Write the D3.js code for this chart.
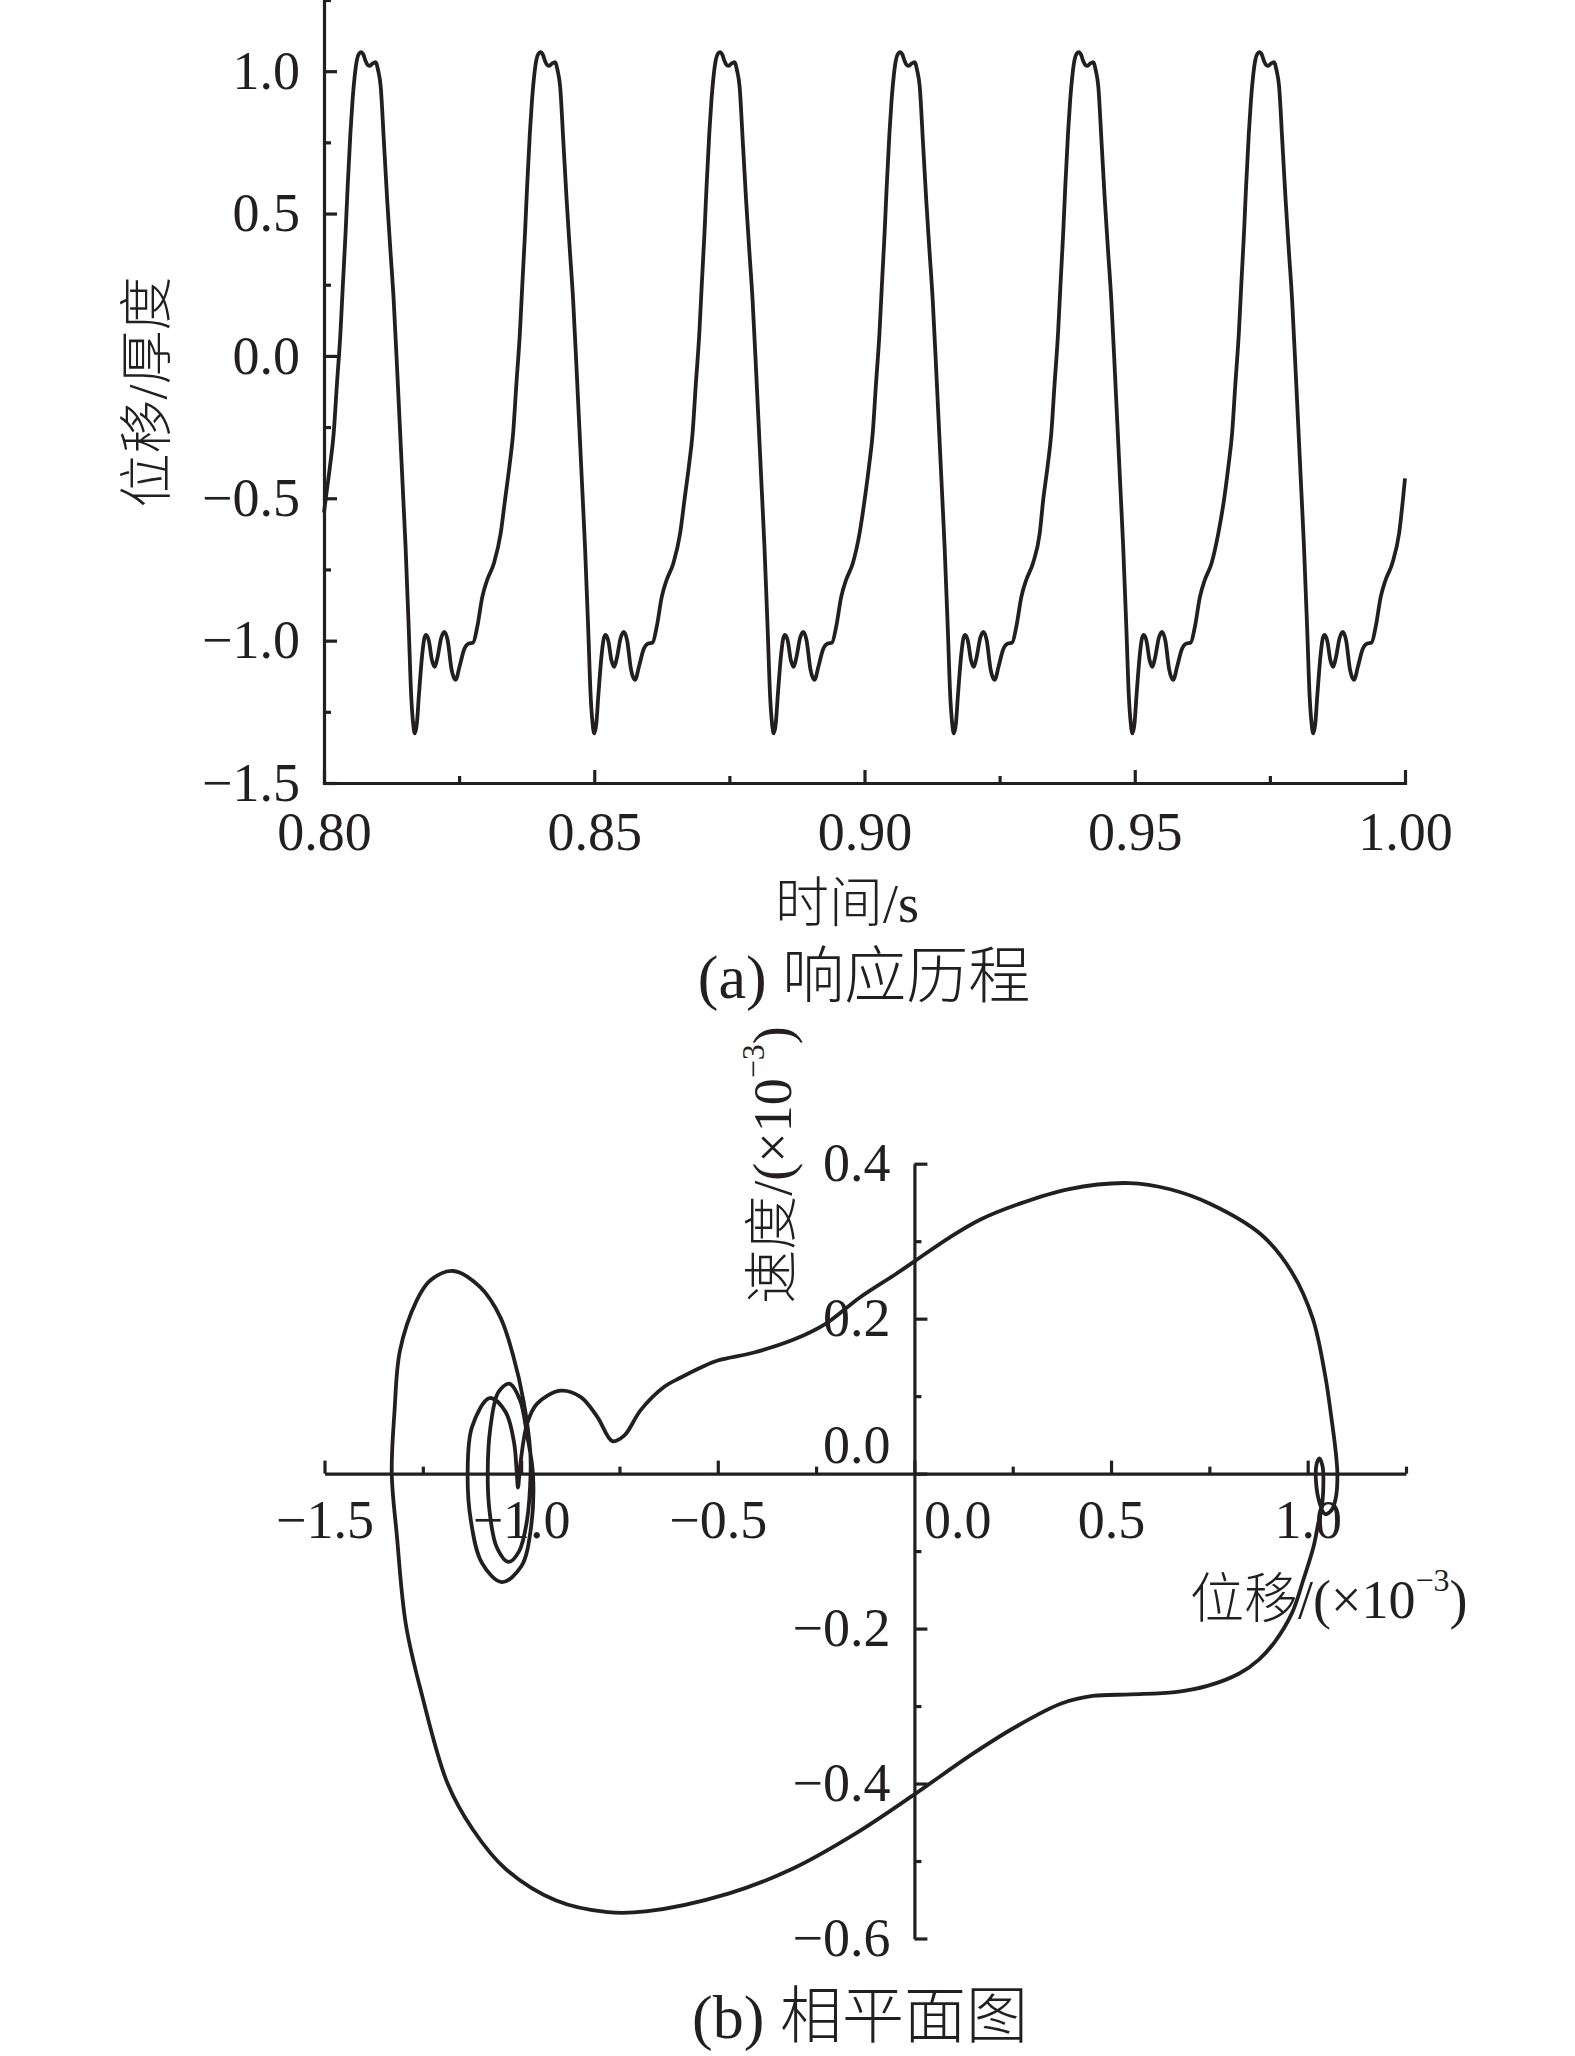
<!DOCTYPE html>
<html>
<head>
<meta charset="utf-8">
<script src="https://cdn.jsdelivr.net/npm/d3@7"></script>
<style>
  body { margin: 0; background: #fff; }
  svg { display: block; background: #fff; }
  .axis text { font-family: "Liberation Serif", "Times New Roman", serif; font-size: 54px; fill: #231f20; }
  .axis line, .axis path { stroke: #231f20; stroke-width: 3.2px; }
  .title { font-family: "Liberation Serif", "Noto Sans CJK SC", serif; font-weight: 300; fill: #231f20; }
</style>
</head>
<body>
<svg width="1575" height="2056"></svg>
<script>
// ---- (a) response history ----
// time of each displacement peak
var peakTimes = [0.80689, 0.84009, 0.87329, 0.90662, 0.93966, 0.97311];
// shape of one cycle: time offset from its peak (s) and displacement/thickness
var cycleOffset = [-0.0066, -0.0058, -0.0051, -0.0045, -0.00385, -0.0034, -0.0029, -0.0025, -0.0020, -0.0016,
  -0.0012, -0.0008, -0.0004, 0, 0.0004, 0.0008, 0.0012, 0.0016, 0.0021, 0.00265,
  0.0031, 0.0036, 0.0042, 0.0048, 0.0054, 0.0060, 0.0067, 0.0073, 0.0077, 0.0082,
  0.0088, 0.00925, 0.0096, 0.0099, 0.0103, 0.01065, 0.0113, 0.0117, 0.0120, 0.0125,
  0.0131, 0.0136, 0.0141, 0.0148, 0.0154, 0.0160, 0.0167, 0.01745, 0.0182, 0.0190,
  0.0199, 0.0207, 0.02147, 0.0224, 0.0233, 0.02455, 0.0258];
var cycleValue = [-0.506, -0.39, -0.272, -0.10, 0.08, 0.25, 0.431, 0.60, 0.783, 0.90,
  0.985, 1.04, 1.062, 1.067, 1.058, 1.036, 1.022, 1.019, 1.027, 1.032,
  1.005, 0.946, 0.75, 0.548, 0.37, 0.197, -0.07, -0.31, -0.47, -0.67,
  -0.963, -1.197, -1.29, -1.326, -1.29, -1.197, -1.045, -0.99, -0.98, -1.0,
  -1.07, -1.092, -1.06, -0.99, -0.969, -1.0, -1.1, -1.138, -1.09, -1.033,
  -1.01, -1.007, -0.951, -0.846, -0.787, -0.728, -0.623];
var firstPoint = [0.80, -0.55];
var lastPoint = [1.00, -0.43];

var xTicksA = [0.80, 0.85, 0.90, 0.95, 1.00];
var xMinorA = [0.825, 0.875, 0.925, 0.975];
var yTicksA = [-1.5, -1.0, -0.5, 0.0, 0.5, 1.0];
var yMinorA = [-1.25, -0.75, -0.25, 0.25, 0.75, 1.25];

// ---- (b) phase plane, traced clockwise from the leftmost point ----
var phaseX = [-1.329, -1.322, -1.308, -1.266, -1.232, -1.172, -1.104, -1.053, -1.019, -0.994,
  -0.977, -0.976, -0.985, -1.005, -1.032, -1.062, -1.080, -1.085, -1.078, -1.058,
  -1.030, -1.003, -0.985, -0.970, -0.975, -1.000, -1.049, -1.100, -1.128, -1.136,
  -1.125, -1.080, -1.040, -1.018, -1.011, -1.008, -1.002, -0.985, -0.960, -0.900,
  -0.849, -0.806, -0.768, -0.738, -0.696, -0.636, -0.594, -0.543, -0.500, -0.410,
  -0.307, -0.227, -0.137, -0.046, 0.000, 0.090, 0.168, 0.260, 0.390, 0.546,
  0.650, 0.753, 0.883, 0.961, 1.013, 1.045, 1.059, 1.070, 1.0755, 1.072,
  1.061, 1.044, 1.031, 1.021, 1.023, 1.030, 1.038, 1.040, 1.036, 1.027,
  1.015, 0.989, 0.960, 0.915, 0.876, 0.826, 0.745, 0.663, 0.550, 0.453,
  0.372, 0.257, 0.144, 0.000, -0.148, -0.310, -0.473, -0.683, -0.780, -0.911,
  -1.040, -1.122, -1.187, -1.252, -1.293, -1.316];
var phaseV = [0.000, 0.080, 0.159, 0.223, 0.249, 0.2615, 0.2406, 0.202, 0.150, 0.094,
  0.030, 0.000, -0.060, -0.100, -0.114, -0.095, -0.050, 0.000, 0.060, 0.105,
  0.116, 0.095, 0.050, 0.000, -0.070, -0.120, -0.140, -0.115, -0.060, 0.000,
  0.060, 0.0975, 0.080, 0.040, 0.000, -0.018, 0.012, 0.064, 0.090, 0.107,
  0.099, 0.073, 0.042, 0.049, 0.082, 0.112, 0.124, 0.137, 0.146, 0.156,
  0.173, 0.193, 0.228, 0.258, 0.274, 0.305, 0.328, 0.347, 0.367, 0.375,
  0.367, 0.348, 0.308, 0.259, 0.200, 0.125, 0.077, 0.034, 0.000, -0.030,
  -0.047, -0.052, -0.039, -0.009, 0.013, 0.0196, 0.009, -0.009, -0.043, -0.064,
  -0.094, -0.137, -0.180, -0.218, -0.240, -0.258, -0.274, -0.282, -0.285, -0.287,
  -0.297, -0.327, -0.363, -0.414, -0.464, -0.510, -0.542, -0.565, -0.566, -0.551,
  -0.510, -0.460, -0.400, -0.286, -0.195, -0.080];

var xTicksB = [-1.5, -1.0, -0.5, 0.0, 0.5, 1.0];
var xMinorB = [-1.25, -0.75, -0.25, 0.25, 0.75, 1.25];
var yTicksB = [-0.6, -0.4, -0.2, 0.0, 0.2, 0.4];
var yMinorB = [-0.5, -0.3, -0.1, 0.1, 0.3];

var svg = d3.select("svg");
var ink = "#231f20";

// build the time series from the cycle readings
var seriesA = [firstPoint];
peakTimes.forEach(function(p) {
  cycleOffset.forEach(function(o, i) {
    var t = p + o;
    if (t > 0.8 && t < 1.0) seriesA.push([t, cycleValue[i]]);
  });
});
seriesA.push(lastPoint);

// ---------- chart (a) ----------
var xA = d3.scaleLinear().domain([0.8, 1.0]).range([324, 1405]);
var yA = d3.scaleLinear().domain([-1.5, 1.25]).range([783, 0]);

var gA = svg.append("g");

gA.append("g").attr("class", "axis")
    .attr("transform", "translate(0,783)")
    .call(d3.axisBottom(xA).tickValues(xTicksA).tickFormat(d3.format(".2f"))
      .tickSizeInner(-13).tickSizeOuter(0).tickPadding(29));
gA.append("g").attr("class", "axis")
    .attr("transform", "translate(0,783)")
    .call(d3.axisBottom(xA).tickValues(xMinorA).tickFormat("").tickSizeInner(-7).tickSizeOuter(0))
    .select(".domain").remove();

gA.append("g").attr("class", "axis")
    .attr("transform", "translate(324,0)")
    .call(d3.axisLeft(yA).tickValues(yTicksA).tickFormat(d3.format(".1f"))
      .tickSizeInner(-13).tickSizeOuter(0).tickPadding(24));
gA.append("g").attr("class", "axis")
    .attr("transform", "translate(324,0)")
    .call(d3.axisLeft(yA).tickValues(yMinorA).tickFormat("").tickSizeInner(-7).tickSizeOuter(0))
    .select(".domain").remove();

svg.selectAll(".axis .domain").attr("stroke-linecap", "square");

gA.append("path")
    .datum(seriesA)
    .attr("fill", "none")
    .attr("stroke", ink)
    .attr("stroke-width", 3.8)
    .attr("stroke-linejoin", "round")
    .attr("d", d3.line()
      .x(function(d) { return xA(d[0]); })
      .y(function(d) { return yA(d[1]); })
      .curve(d3.curveMonotoneX));

gA.append("text").attr("class", "title")
    .attr("transform", "translate(148,392) rotate(-90)")
    .attr("text-anchor", "middle").attr("dominant-baseline", "central")
    .style("font-size", "54px")
    .text("位移/厚度");

gA.append("text").attr("class", "title")
    .attr("x", 847).attr("y", 904)
    .attr("text-anchor", "middle").attr("dominant-baseline", "central")
    .style("font-size", "54px")
    .text("时间/s");

gA.append("text").attr("class", "title")
    .attr("x", 864).attr("y", 977)
    .attr("text-anchor", "middle").attr("dominant-baseline", "central")
    .style("font-size", "62px")
    .text("(a) 响应历程");

// ---------- chart (b) ----------
var xB = d3.scaleLinear().domain([-1.5, 1.25]).range([324.5, 1406]);
var yB = d3.scaleLinear().domain([-0.6, 0.4]).range([1938.5, 1163.7]);
var x0 = xB(0), y0 = yB(0);

var gB = svg.append("g");

var axB = gB.append("g").attr("class", "axis")
    .attr("transform", "translate(0," + y0 + ")")
    .call(d3.axisBottom(xB).tickValues(xTicksB).tickFormat(d3.format(".1f"))
      .tickSizeInner(-13).tickSizeOuter(0).tickPadding(26));
gB.append("g").attr("class", "axis")
    .attr("transform", "translate(0," + y0 + ")")
    .call(d3.axisBottom(xB).tickValues(xMinorB).tickFormat("").tickSizeInner(-7).tickSizeOuter(0))
    .select(".domain").remove();

var ayB = gB.append("g").attr("class", "axis")
    .attr("transform", "translate(" + x0 + ",0)")
    .call(d3.axisLeft(yB).tickValues(yTicksB).tickFormat(d3.format(".1f"))
      .tickSizeInner(-13).tickSizeOuter(0).tickPadding(24));
gB.append("g").attr("class", "axis")
    .attr("transform", "translate(" + x0 + ",0)")
    .call(d3.axisLeft(yB).tickValues(yMinorB).tickFormat("").tickSizeInner(-7).tickSizeOuter(0))
    .select(".domain").remove();

// the zero labels sit beside the crossing axes
axB.selectAll(".tick").filter(function(d) { return d === 0; })
    .select("text").attr("text-anchor", "start").attr("x", 9);
ayB.selectAll(".tick").filter(function(d) { return d === 0; })
    .select("text").attr("dy", "-0.2em");

var phase = phaseX.map(function(x, i) { return [x, phaseV[i]]; });

gB.append("path")
    .datum(phase)
    .attr("fill", "none")
    .attr("stroke", ink)
    .attr("stroke-width", 3.8)
    .attr("stroke-linejoin", "round")
    .attr("d", d3.line()
      .x(function(d) { return xB(d[0]); })
      .y(function(d) { return yB(d[1]); })
      .curve(d3.curveCatmullRomClosed.alpha(0.5)));

var tx = gB.append("text").attr("class", "title")
    .attr("x", 1190).attr("y", 1600)
    .attr("dominant-baseline", "central")
    .style("font-size", "54px");
tx.append("tspan").text("位移/(×10");
tx.append("tspan").style("font-size", "32px").attr("dy", -20).text("−3");
tx.append("tspan").attr("dy", 20).text(")");

var ty = gB.append("text").attr("class", "title")
    .attr("transform", "translate(773,1165) rotate(-90)")
    .attr("text-anchor", "middle").attr("dominant-baseline", "central")
    .style("font-size", "54px");
ty.append("tspan").text("速度/(×10");
ty.append("tspan").style("font-size", "32px").attr("dy", -20).text("−3");
ty.append("tspan").attr("dy", 20).text(")");

gB.append("text").attr("class", "title")
    .attr("x", 860).attr("y", 2017)
    .attr("text-anchor", "middle").attr("dominant-baseline", "central")
    .style("font-size", "62px")
    .text("(b) 相平面图");
</script>
</body>
</html>
